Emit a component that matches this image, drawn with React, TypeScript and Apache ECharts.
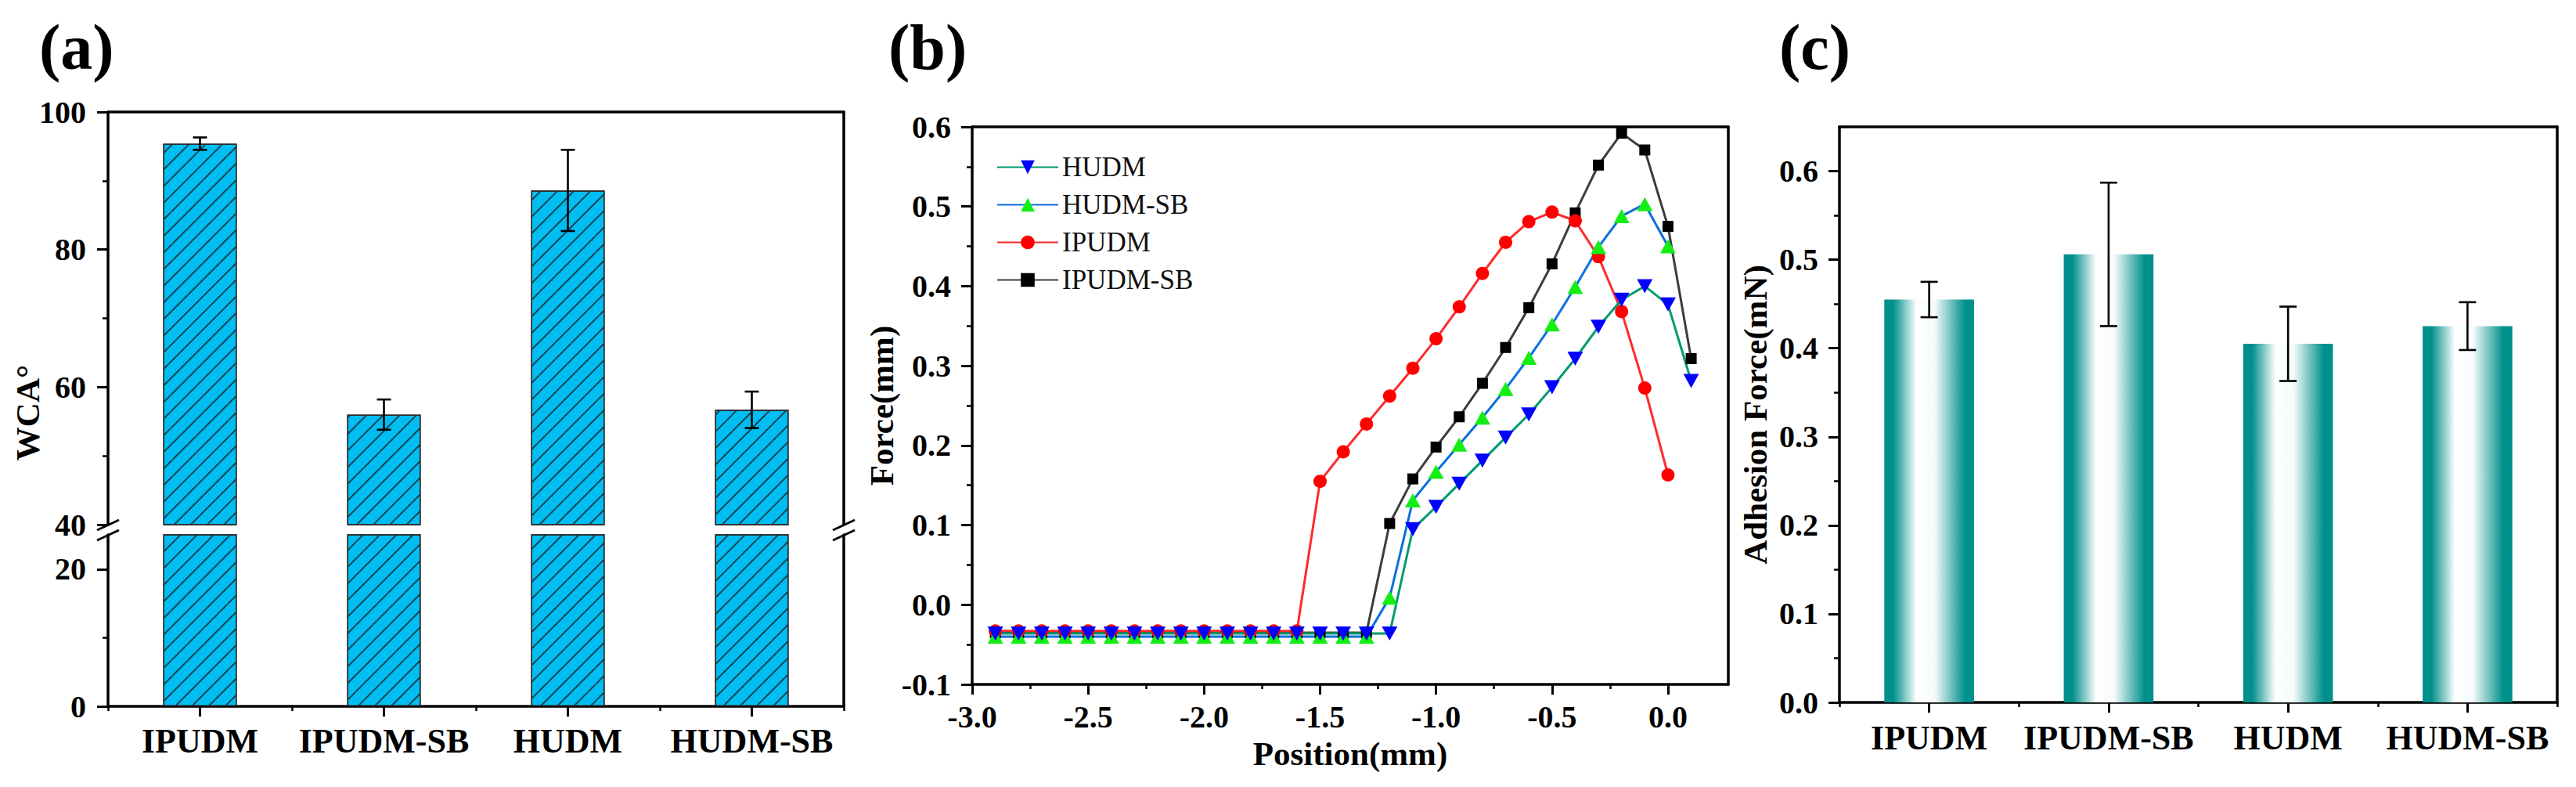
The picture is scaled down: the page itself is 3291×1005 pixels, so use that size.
import React, { useEffect, useRef } from 'react';
import * as echarts from 'echarts';

// ---------------- data ----------------
const categories = ['IPUDM', 'IPUDM-SB', 'HUDM', 'HUDM-SB'];
const wcaValues = [95.4, 56.0, 88.6, 56.7];
const wcaErrors = [0.9, 2.2, 5.9, 2.65];
const adhesionValues = [0.455, 0.506, 0.405, 0.425];
const adhesionErrors = [0.02, 0.081, 0.042, 0.027];

const positions = [
  -2.9, -2.8, -2.7, -2.6, -2.5, -2.4, -2.3, -2.2, -2.1, -2.0,
  -1.9, -1.8, -1.7, -1.6, -1.5, -1.4, -1.3, -1.2, -1.1, -1.0,
  -0.9, -0.8, -0.7, -0.6, -0.5, -0.4, -0.3, -0.2, -0.1, 0.0, 0.1,
];
const forceHUDM = [
  -0.036, -0.036, -0.036, -0.036, -0.036, -0.036, -0.036, -0.036, -0.036, -0.036,
  -0.036, -0.036, -0.036, -0.036, -0.036, -0.036, -0.036, -0.036, 0.095, 0.123,
  0.152, 0.181, 0.21, 0.239, 0.273, 0.309, 0.349, 0.383, 0.4, 0.377, 0.281,
];
const forceHUDMSB = [
  -0.04, -0.04, -0.04, -0.04, -0.04, -0.04, -0.04, -0.04, -0.04, -0.04,
  -0.04, -0.04, -0.04, -0.04, -0.04, -0.04, -0.04, 0.009, 0.131, 0.167,
  0.201, 0.235, 0.271, 0.31, 0.352, 0.399, 0.449, 0.488, 0.503, 0.45,
];
const forceIPUDM = [
  -0.033, -0.033, -0.033, -0.033, -0.033, -0.033, -0.033, -0.033, -0.033, -0.033,
  -0.033, -0.033, -0.033, -0.033, 0.155, 0.192, 0.227, 0.262, 0.297, 0.334,
  0.374, 0.416, 0.455, 0.481, 0.493, 0.482, 0.437, 0.368, 0.272, 0.163,
];
const forceIPUDMSB = [
  -0.035, -0.035, -0.035, -0.035, -0.035, -0.035, -0.035, -0.035, -0.035, -0.035,
  -0.035, -0.035, -0.035, -0.035, -0.035, -0.035, -0.035, 0.102, 0.158, 0.198,
  0.236, 0.278, 0.323, 0.373, 0.428, 0.492, 0.552, 0.592, 0.571, 0.475, 0.309,
];

// tick values
const wcaUpperTicks = [40, 60, 80, 100];
const wcaUpperMinor = [50, 70, 90];
const wcaLowerTicks = [0, 20];
const wcaLowerMinor = [10];
const positionTicks = [-3, -2.5, -2, -1.5, -1, -0.5, 0];
const positionMinor = [-2.75, -2.25, -1.75, -1.25, -0.75, -0.25];
const adhesionTicks = [0, 0.1, 0.2, 0.3, 0.4, 0.5, 0.6];
const adhesionMinor = [0.05, 0.15, 0.25, 0.35, 0.45, 0.55];
const legendOrder = ['HUDM', 'HUDM-SB', 'IPUDM', 'IPUDM-SB'];

// ---------------- layout / style ----------------
const FONT = '"Liberation Serif", "Times New Roman", serif';
const G = {
  aUp: { left: 138, top: 143, width: 940, height: 527 },
  aLow: { left: 138, top: 683, width: 940, height: 219 },
  b: { left: 1242, top: 162, width: 966, height: 712 },
  c: { left: 2350, top: 162, width: 917, height: 735 },
};

const axisLine = { show: true, onZero: false, lineStyle: { color: '#000', width: 3.5 } };
const majorTick = { show: true, inside: false, length: 14, lineStyle: { color: '#000', width: 3 } };
const minorTick = { show: true, inside: false, length: 7, lineStyle: { color: '#000', width: 2.5 } };
const noLabel = { show: false };
const label = (margin: number, fontSize: number, extra: any = {}) => ({
  show: true,
  margin,
  fontSize,
  fontWeight: 'bold',
  fontFamily: FONT,
  color: '#000',
  hideOverlap: false,
  ...extra,
});
const fmt1 = (v: number) => (Math.abs(v) < 1e-9 ? '0.0' : v.toFixed(1));
const nameStyle = { fontSize: 43, fontWeight: 'bold', fontFamily: FONT, color: '#000' };

const lineOnly = (extra: any) => ({
  axisLine,
  axisTick: { show: false },
  axisLabel: noLabel,
  splitLine: { show: false },
  ...extra,
});
const ghost = (extra: any, tick: any) => ({
  axisLine: { show: false, onZero: false },
  axisTick: tick,
  axisLabel: noLabel,
  splitLine: { show: false },
  ...extra,
});

const errorSeries = (xi: number, yi: number, values: number[], errors: number[], cap: number) => ({
  type: 'custom',
  xAxisIndex: xi,
  yAxisIndex: yi,
  z: 10,
  clip: false,
  data: values.map((v, i) => [i, v, errors[i]]),
  encode: { x: 0, y: 1 },
  renderItem: (params: any, api: any) => {
    const i = api.value(0);
    const v = api.value(1);
    const e = api.value(2);
    const hi = api.coord([i, v + e]);
    const lo = api.coord([i, v - e]);
    const st = { stroke: '#000', lineWidth: 2.6 };
    return {
      type: 'group',
      children: [
        { type: 'line', shape: { x1: hi[0], y1: hi[1], x2: lo[0], y2: lo[1] }, style: st },
        { type: 'line', shape: { x1: hi[0] - cap / 2, y1: hi[1], x2: hi[0] + cap / 2, y2: hi[1] }, style: st },
        { type: 'line', shape: { x1: lo[0] - cap / 2, y1: lo[1], x2: lo[0] + cap / 2, y2: lo[1] }, style: st },
      ],
    };
  },
});

const hatchStyle = {
  color: '#00BEF2',
  borderColor: '#2a2a2a',
  borderWidth: 1.5,
  decal: {
    symbol: 'rect',
    symbolSize: 1,
    dashArrayX: [1, 0],
    dashArrayY: [1.6, 12.5],
    rotation: -Math.PI / 4,
    color: 'rgba(20,45,60,0.85)',
  },
};

const TEAL = '#00908C';
const tealGradient = new echarts.graphic.LinearGradient(0, 0, 1, 0, [
  { offset: 0, color: TEAL },
  { offset: 0.1, color: TEAL },
  { offset: 0.36, color: '#ffffff' },
  { offset: 0.56, color: '#f7fbfb' },
  { offset: 0.9, color: TEAL },
  { offset: 1, color: TEAL },
]);

const breakMarks = (x0: number) => [
  { type: 'line', shape: { x1: x0 - 14, y1: 677, x2: x0 + 14, y2: 664 }, style: { stroke: '#000', lineWidth: 3 }, z: 100 },
  { type: 'line', shape: { x1: x0 - 14, y1: 690, x2: x0 + 14, y2: 677 }, style: { stroke: '#000', lineWidth: 3 }, z: 100 },
];

const panelLabel = (text: string, x: number) => ({
  type: 'text',
  x,
  y: 60,
  style: {
    text,
    fontSize: 82,
    fontWeight: 'bold',
    fontFamily: FONT,
    fill: '#000',
    textAlign: 'left',
    align: 'left',
    textVerticalAlign: 'middle',
    verticalAlign: 'middle',
  },
});

const lineSeries = (name: string, values: number[], symbol: string, size: any, markerColor: string, lineColor: string, rotate = 0) => ({
  name,
  type: 'line',
  xAxisIndex: 3,
  yAxisIndex: 6,
  data: values.map((y, i) => [positions[i], y]),
  symbol,
  symbolSize: size,
  symbolRotate: rotate,
  showSymbol: true,
  showAllSymbol: true,
  itemStyle: { color: markerColor, borderWidth: 0 },
  lineStyle: { color: lineColor, width: 3 },
  emphasis: { disabled: true },
});

function buildOption(): any {
  return {
    animation: false,
    backgroundColor: '#ffffff',
    textStyle: { fontFamily: FONT },
    grid: [
      { ...G.aUp, containLabel: false, outerBoundsMode: 'none', show: false },
      { ...G.aLow, containLabel: false, outerBoundsMode: 'none', show: false },
      { ...G.b, containLabel: false, outerBoundsMode: 'none', show: false },
      { ...G.c, containLabel: false, outerBoundsMode: 'none', show: false },
    ],
    legend: {
      data: legendOrder,
      orient: 'vertical',
      left: 1268,
      top: 191,
      itemWidth: 78,
      itemHeight: 22,
      itemGap: 13,
      selectedMode: false,
      textStyle: { fontSize: 35, fontFamily: FONT, color: '#111', fontWeight: 'normal' },
    },
    xAxis: [
      // (a) upper: top frame
      lineOnly({ type: 'category', gridIndex: 0, data: categories, position: 'top', boundaryGap: true }),
      // (a) lower: category labels
      {
        type: 'category', gridIndex: 1, data: categories, position: 'bottom', boundaryGap: true,
        axisLine,
        axisTick: { ...majorTick, length: 13, alignWithLabel: true, interval: 0 },
        axisLabel: label(22, 44, { interval: 0 }),
        splitLine: { show: false },
      },
      // (a) lower: boundary ticks
      ghost({ type: 'category', gridIndex: 1, data: categories, position: 'bottom', boundaryGap: true },
        { ...minorTick, length: 6, alignWithLabel: false, interval: 0 }),
      // (b) main x
      {
        type: 'value', gridIndex: 2, min: -3, max: 0.26, interval: 0.5, position: 'bottom',
        axisLine,
        axisTick: { ...majorTick, length: 13, customValues: positionTicks },
        axisLabel: label(21, 40, { formatter: fmt1, customValues: positionTicks }),
        splitLine: { show: false },
        name: 'Position(mm)', nameLocation: 'middle', nameGap: 67, nameTextStyle: nameStyle,
      },
      // (b) minor x ticks
      ghost({ type: 'value', gridIndex: 2, min: -3, max: 0.26, position: 'bottom' },
        { ...minorTick, length: 6, customValues: positionMinor }),
      // (b) top frame
      lineOnly({ type: 'value', gridIndex: 2, min: -3, max: 0.26, position: 'top' }),
      // (c) category labels
      {
        type: 'category', gridIndex: 3, data: categories, position: 'bottom', boundaryGap: true,
        axisLine,
        axisTick: { ...majorTick, length: 13, alignWithLabel: true, interval: 0 },
        axisLabel: label(23, 44, { interval: 0 }),
        splitLine: { show: false },
      },
      // (c) boundary ticks
      ghost({ type: 'category', gridIndex: 3, data: categories, position: 'bottom', boundaryGap: true },
        { ...minorTick, length: 6, alignWithLabel: false, interval: 0 }),
      // (c) top frame
      lineOnly({ type: 'category', gridIndex: 3, data: categories, position: 'top', boundaryGap: true }),
    ],
    yAxis: [
      // 0 (a) upper main
      {
        type: 'value', gridIndex: 0, min: 40, max: 100, interval: 20, position: 'left',
        axisLine,
        axisTick: { ...majorTick, customValues: wcaUpperTicks },
        axisLabel: label(28, 40, { customValues: wcaUpperTicks }),
        splitLine: { show: false },
      },
      // 1 (a) upper minor
      ghost({ type: 'value', gridIndex: 0, min: 40, max: 100, position: 'left' },
        { ...minorTick, customValues: wcaUpperMinor }),
      // 2 (a) upper right frame
      lineOnly({ type: 'value', gridIndex: 0, min: 40, max: 100, position: 'right' }),
      // 3 (a) lower main
      {
        type: 'value', gridIndex: 1, min: 0, max: 25, interval: 20, position: 'left',
        axisLine,
        axisTick: { ...majorTick, customValues: wcaLowerTicks },
        axisLabel: label(28, 40, { customValues: wcaLowerTicks }),
        splitLine: { show: false },
      },
      // 4 (a) lower minor
      ghost({ type: 'value', gridIndex: 1, min: 0, max: 25, position: 'left' },
        { ...minorTick, customValues: wcaLowerMinor }),
      // 5 (a) lower right frame
      lineOnly({ type: 'value', gridIndex: 1, min: 0, max: 25, position: 'right' }),
      // 6 (b) main y
      {
        type: 'value', gridIndex: 2, min: -0.1, max: 0.6, interval: 0.1, position: 'left',
        axisLine,
        axisTick: majorTick,
        minorTick: { ...minorTick, splitNumber: 2 },
        axisLabel: label(27, 40, { formatter: fmt1 }),
        splitLine: { show: false },
        minorSplitLine: { show: false },
        name: 'Force(mm)', nameLocation: 'middle', nameGap: 92, nameTextStyle: nameStyle,
      },
      // 7 (b) right frame
      lineOnly({ type: 'value', gridIndex: 2, min: -0.1, max: 0.6, position: 'right' }),
      // 8 (c) main y
      {
        type: 'value', gridIndex: 3, min: 0, max: 0.65, interval: 0.1, position: 'left',
        axisLine,
        axisTick: { ...majorTick, customValues: adhesionTicks },
        axisLabel: label(27, 40, { formatter: fmt1, customValues: adhesionTicks }),
        splitLine: { show: false },
        name: 'Adhesion Force(mN)', nameLocation: 'middle', nameGap: 86, nameTextStyle: nameStyle,
      },
      // 9 (c) minor
      ghost({ type: 'value', gridIndex: 3, min: 0, max: 0.65, position: 'left' },
        { ...minorTick, customValues: adhesionMinor }),
      // 10 (c) right frame
      lineOnly({ type: 'value', gridIndex: 3, min: 0, max: 0.65, position: 'right' }),
    ],
    series: [
      {
        type: 'bar', xAxisIndex: 0, yAxisIndex: 0, data: wcaValues, barWidth: '40%', clip: true,
        itemStyle: hatchStyle, emphasis: { disabled: true },
      },
      {
        type: 'bar', xAxisIndex: 1, yAxisIndex: 3, data: wcaValues, barWidth: '40%', clip: true,
        itemStyle: hatchStyle, emphasis: { disabled: true },
      },
      errorSeries(0, 0, wcaValues, wcaErrors, 18),
      lineSeries('IPUDM-SB', forceIPUDMSB, 'rect', 14, '#000000', '#3c3c3c'),
      lineSeries('IPUDM', forceIPUDM, 'circle', 17, '#FF0000', '#FF2A2A'),
      lineSeries('HUDM-SB', forceHUDMSB, 'triangle', [20, 18], '#14EE14', '#0A6FE0'),
      lineSeries('HUDM', forceHUDM, 'triangle', [20, 18], '#0000FF', '#009B6E', 180),
      {
        type: 'bar', xAxisIndex: 6, yAxisIndex: 8, data: adhesionValues, barWidth: '50%',
        itemStyle: { color: tealGradient }, emphasis: { disabled: true },
      },
      errorSeries(6, 8, adhesionValues, adhesionErrors, 22),
    ],
    graphic: [
      panelLabel('(a)', 50),
      panelLabel('(b)', 1135),
      panelLabel('(c)', 2273),
      {
        type: 'text',
        x: 35,
        y: 527,
        rotation: Math.PI / 2,
        style: {
          text: 'WCA°',
          fontSize: 43,
          fontWeight: 'bold',
          fontFamily: FONT,
          fill: '#000',
          textAlign: 'center',
          align: 'center',
          textVerticalAlign: 'middle',
          verticalAlign: 'middle',
        },
      },
      ...breakMarks(G.aUp.left),
      ...breakMarks(G.aUp.left + G.aUp.width),
    ],
  };
}

export default function App() {
  const ref = useRef<HTMLDivElement>(null);
  useEffect(() => {
    if (!ref.current) return;
    const chart = echarts.init(ref.current, null, { renderer: 'svg' });
    chart.setOption(buildOption());
    return () => chart.dispose();
  }, []);
  return (
    <div
      ref={ref}
      style={{ position: 'absolute', left: 0, top: 0, width: 3291, height: 1005, background: '#fff' }}
    />
  );
}
